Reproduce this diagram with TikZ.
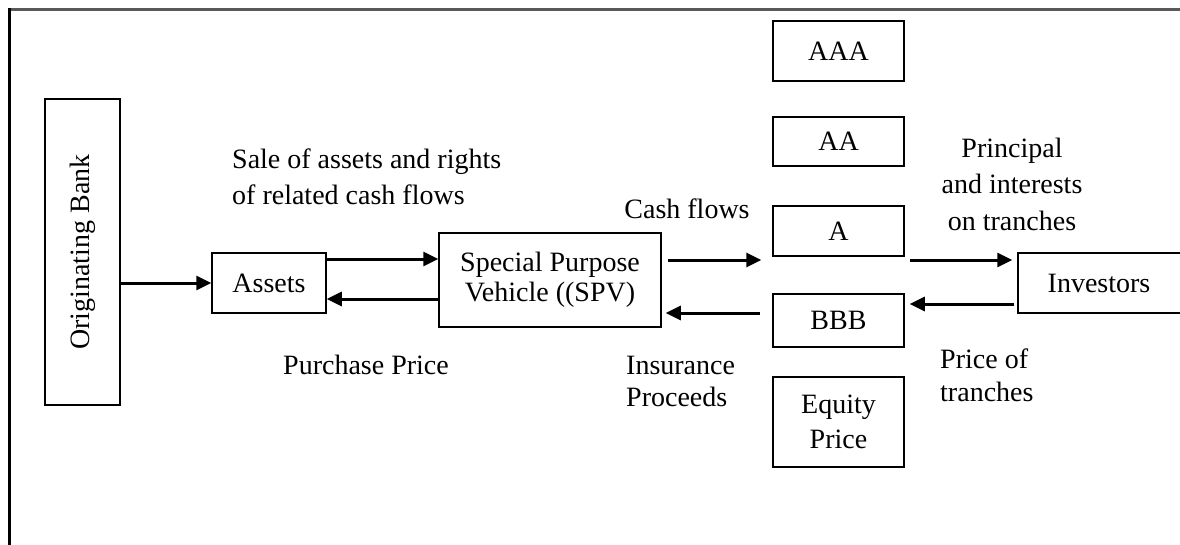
\documentclass[tikz,border=0pt]{standalone}
\usepackage{fontspec}
\setmainfont{Liberation Serif}
\usepackage{tikz}
\usetikzlibrary{arrows.meta,positioning}

\begin{document}
\begin{tikzpicture}[
    x=1pt, y=-1pt,
    box/.style={rectangle, draw, line width=1.5pt, align=center, inner sep=0pt,
        font=\fontsize{28}{30}\selectfont},
    tranche/.style={box, minimum width=131pt},
    lbl/.style={inner sep=0pt, font=\fontsize{28}{33}\selectfont},
    arrow/.style={-{Triangle[length=15pt,width=14pt]}, line width=3pt}
]
\useasboundingbox (0,0) rectangle (1180,544);
% frame
\draw[line width=3pt, black!65] (8,9.5) -- (1190,9.5);
\draw[line width=3pt] (9.5,8) -- (9.5,560);

\node[box, minimum width=75pt, minimum height=306pt] (bank) at (82.5,252) {\rotatebox{90}{Originating Bank}};
\node[box, minimum width=114pt, minimum height=60pt] (assets) at (269,283) {Assets};
\node[box, minimum width=222pt, minimum height=94pt] (spv) at (550,280) {Special Purpose\\Vehicle ((SPV)};

% tranches
\node[tranche, minimum height=60pt] (aaa) at (838.5,51) {AAA};
\node[tranche, minimum height=49pt] (aa) at (838.5,141.5) {AA};
\node[tranche, minimum height=50pt] (a) at (838.5,231) {A};
\node[tranche, minimum height=53pt] (bbb) at (838.5,320.5) {BBB};
\node[tranche, minimum height=90pt, font=\fontsize{28}{35}\selectfont] (equity) at (838.5,422) {Equity\\Price};

\node[box, minimum width=170pt, minimum height=60pt] (investors) at (1103,283) {\hspace{-8pt}Investors};

% labels
\node[lbl, anchor=west, align=left, font=\fontsize{28}{36}\selectfont] (sale) at (232,177) {Sale of assets and rights\\of related cash flows};
\node[lbl] (purchase) at (366,365) {Purchase Price};
\node[lbl] (cash) at (687,209) {Cash flows};
\node[lbl, anchor=west, align=left, font=\fontsize{28}{32}\selectfont] (insurance) at (626,381) {Insurance\\Proceeds};
\node[lbl, align=center, font=\fontsize{28}{36.5}\selectfont] (principal) at (1012,184) {Principal\\and interests\\on tranches};
\node[lbl, anchor=west, align=left] (priceof) at (940,375) {Price of\\tranches};

% connectors
\coordinate (assetsup) at ([yshift=24pt]assets.east);
\coordinate (assetsdown) at ([yshift=-16pt]assets.east);
\coordinate (spvup) at ([yshift=20pt]spv.east);
\coordinate (spvdown) at ([yshift=-33pt]spv.east);
\coordinate (invup) at ([yshift=23pt]investors.west);
\coordinate (invdown) at ([yshift=-21pt]investors.west);

\draw[arrow] (bank.east |- assets.west) -- (assets.west);
\draw[arrow] (assetsup) -- (assetsup -| spv.west);
\draw[arrow] (assetsdown -| spv.west) -- (assetsdown);
\draw[arrow, shorten <=6pt, shorten >=11pt] (spvup) -- (spvup -| a.west);
\draw[arrow, shorten <=12pt, shorten >=4pt] (spvdown -| bbb.west) -- (spvdown);
\draw[arrow, shorten <=5pt, shorten >=5pt] (invup -| a.east) -- (invup);
\draw[arrow, shorten <=3pt, shorten >=5pt] (invdown) -- (invdown -| bbb.east);
\end{tikzpicture}
\end{document}
